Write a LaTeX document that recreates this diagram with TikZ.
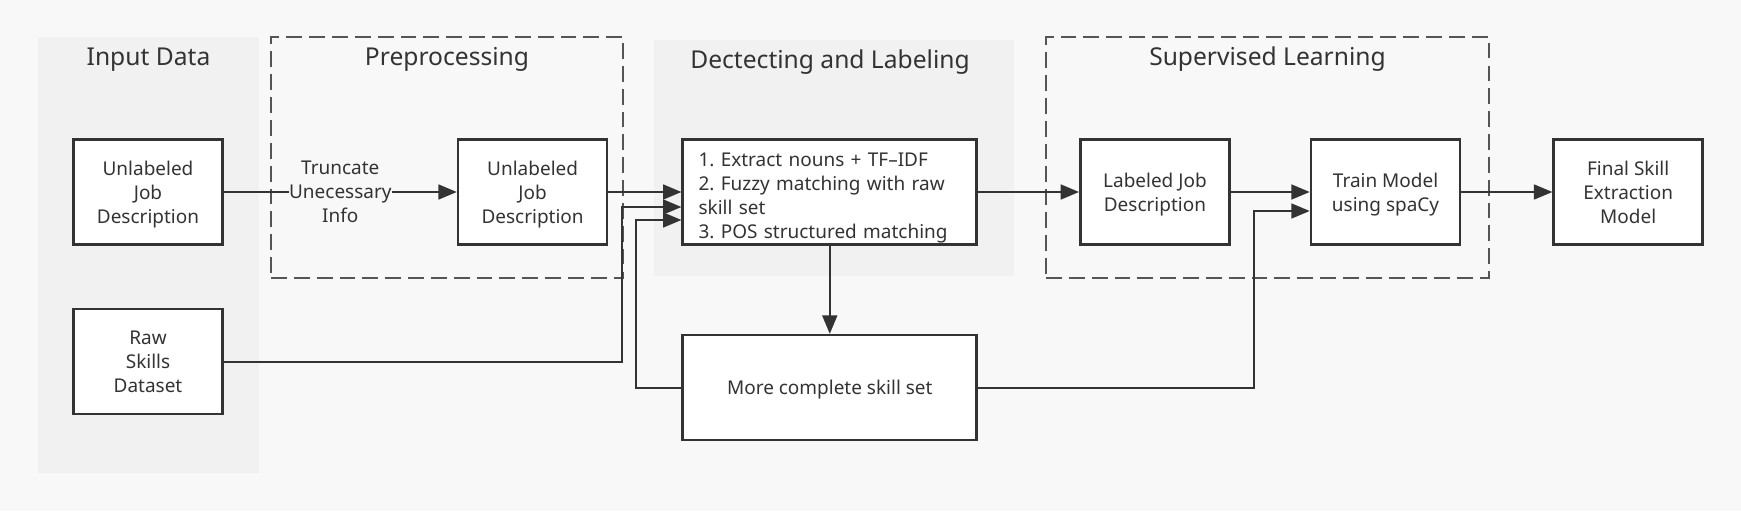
\documentclass[tikz,border=0pt]{standalone}
\usepackage{fontspec}
\setmainfont{Noto Sans}
\usetikzlibrary{positioning, arrows.meta, calc, fit, backgrounds}
\definecolor{bgPage}{HTML}{F8F8F8}
\definecolor{bgGroup}{HTML}{F1F1F1}
\definecolor{lineMain}{HTML}{333333}
\definecolor{lineDash}{HTML}{555555}
\definecolor{textMain}{HTML}{333333}
\tikzset{
  stepbox/.style={draw=lineMain, fill=white, line width=1.5pt,
    minimum width=2.98cm, minimum height=2.1cm, inner sep=2pt,
    font=\fontsize{10.8}{13.7}\selectfont\frenchspacing, text=textMain, align=center},
  lowtext/.style={text depth=-1.8pt},
  notetext/.style={inner sep=0pt, font=\fontsize{10.8}{13.7}\selectfont,
    text=textMain, align=center, lowtext},
  grpshade/.style={fill=bgGroup, inner sep=0pt},
  grpdash/.style={draw=lineDash, line width=1.1pt, dash pattern=on 9pt off 4pt,
    inner sep=0pt},
  grptitle/.style={anchor=base, font=\fontsize{14}{16}\selectfont, text=textMain},
  flowarrow/.style={-{Triangle[length=10.5pt, width=8.5pt]}, line width=1.1pt, color=lineMain},
  flowline/.style={line width=1.1pt, color=lineMain},
}
\begin{document}
\begin{tikzpicture}

  % page
  \useasboundingbox (0,0) rectangle (34.82,-10.22);
  \fill[bgPage] (0,0) rectangle (34.82,-10.22);

  % === Groups ===
  \node[grpshade, fit={(0.76,-0.74) (5.18,-9.46)}] (gInput) {};
  \node[grpdash, fit={(5.42,-0.74) (12.46,-5.56)}] (gPre) {};
  \node[grpshade, fit={(13.08,-0.80) (20.28,-5.52)}] (gDetect) {};
  \node[grpdash, fit={(20.92,-0.74) (29.78,-5.56)}] (gSuper) {};

  \node[grptitle] (tInput) at ([yshift=-0.58cm]gInput.north) {Input Data};
  \node[grptitle] (tPre) at ([yshift=-0.58cm]gPre.north) {Preprocessing};
  \node[grptitle, xshift=-0.08cm] (tDetect) at ([yshift=-0.58cm]gDetect.north) {Dectecting and Labeling};
  \node[grptitle] (tSuper) at ([yshift=-0.58cm]gSuper.north) {Supervised Learning};

  % === Steps ===
  \node[stepbox, lowtext] (jdIn) at (2.96,-3.84) {Unlabeled\\Job\\Description};
  \node[stepbox, lowtext, below=1.24cm of jdIn] (rawSkills) {Raw\\Skills\\Dataset};
  \node[stepbox, lowtext, right=4.66cm of jdIn] (jdTrunc) {Unlabeled\\Job\\Description};
  \node[notetext] (trunc) at ($(jdIn.east)!0.5!(jdTrunc.west)$) {Truncate\\Unecessary\\Info};
  \node[stepbox, right=1.46cm of jdTrunc, minimum width=5.88cm, text width=5.25cm,
    align=left, inner ysep=0pt, execute at begin node={\rule{0pt}{14.5pt}}] (detect) {%
    1. Extract nouns + TF–IDF\\
    2. Fuzzy matching with raw\\
    skill set\\
    3. POS structured matching};
  \node[stepbox, below=1.76cm of detect, minimum width=5.88cm, text depth=-6.5pt] (moreSkills) {More complete skill set};
  \node[stepbox, lowtext, right=2.02cm of detect] (labeled) {Labeled Job\\Description};
  \node[stepbox, lowtext, right=1.58cm of labeled] (train) {Train Model\\using spaCy};
  \node[stepbox, lowtext, right=1.82cm of train] (final) {Final Skill\\Extraction\\Model};

  % entry points on the left/right sides
  \coordinate (rawIn) at ([yshift=-0.3cm]detect.west);
  \coordinate (loopIn) at ([yshift=-0.56cm]detect.west);
  \coordinate (trainIn) at ([yshift=-0.38cm]train.west);

  % === Connectors ===
  \draw[flowline] (jdIn) -- (trunc);
  \draw[flowarrow] (trunc) -- (jdTrunc);
  \draw[flowarrow] (jdTrunc) -- (detect);
  \draw[flowarrow] (rawSkills.east) -| ([xshift=-1.18cm]rawIn) -- (rawIn);
  \draw[flowarrow] (moreSkills.west) -| ([xshift=-0.9cm]loopIn) -- (loopIn);
  \draw[flowarrow] (detect) -- (moreSkills);
  \draw[flowarrow] (detect) -- (labeled);
  \draw[flowarrow] (labeled) -- (train);
  \draw[flowarrow] (moreSkills.east) -| ([xshift=-1.12cm]trainIn) -- (trainIn);
  \draw[flowarrow] (train) -- (final);

\end{tikzpicture}
\end{document}
